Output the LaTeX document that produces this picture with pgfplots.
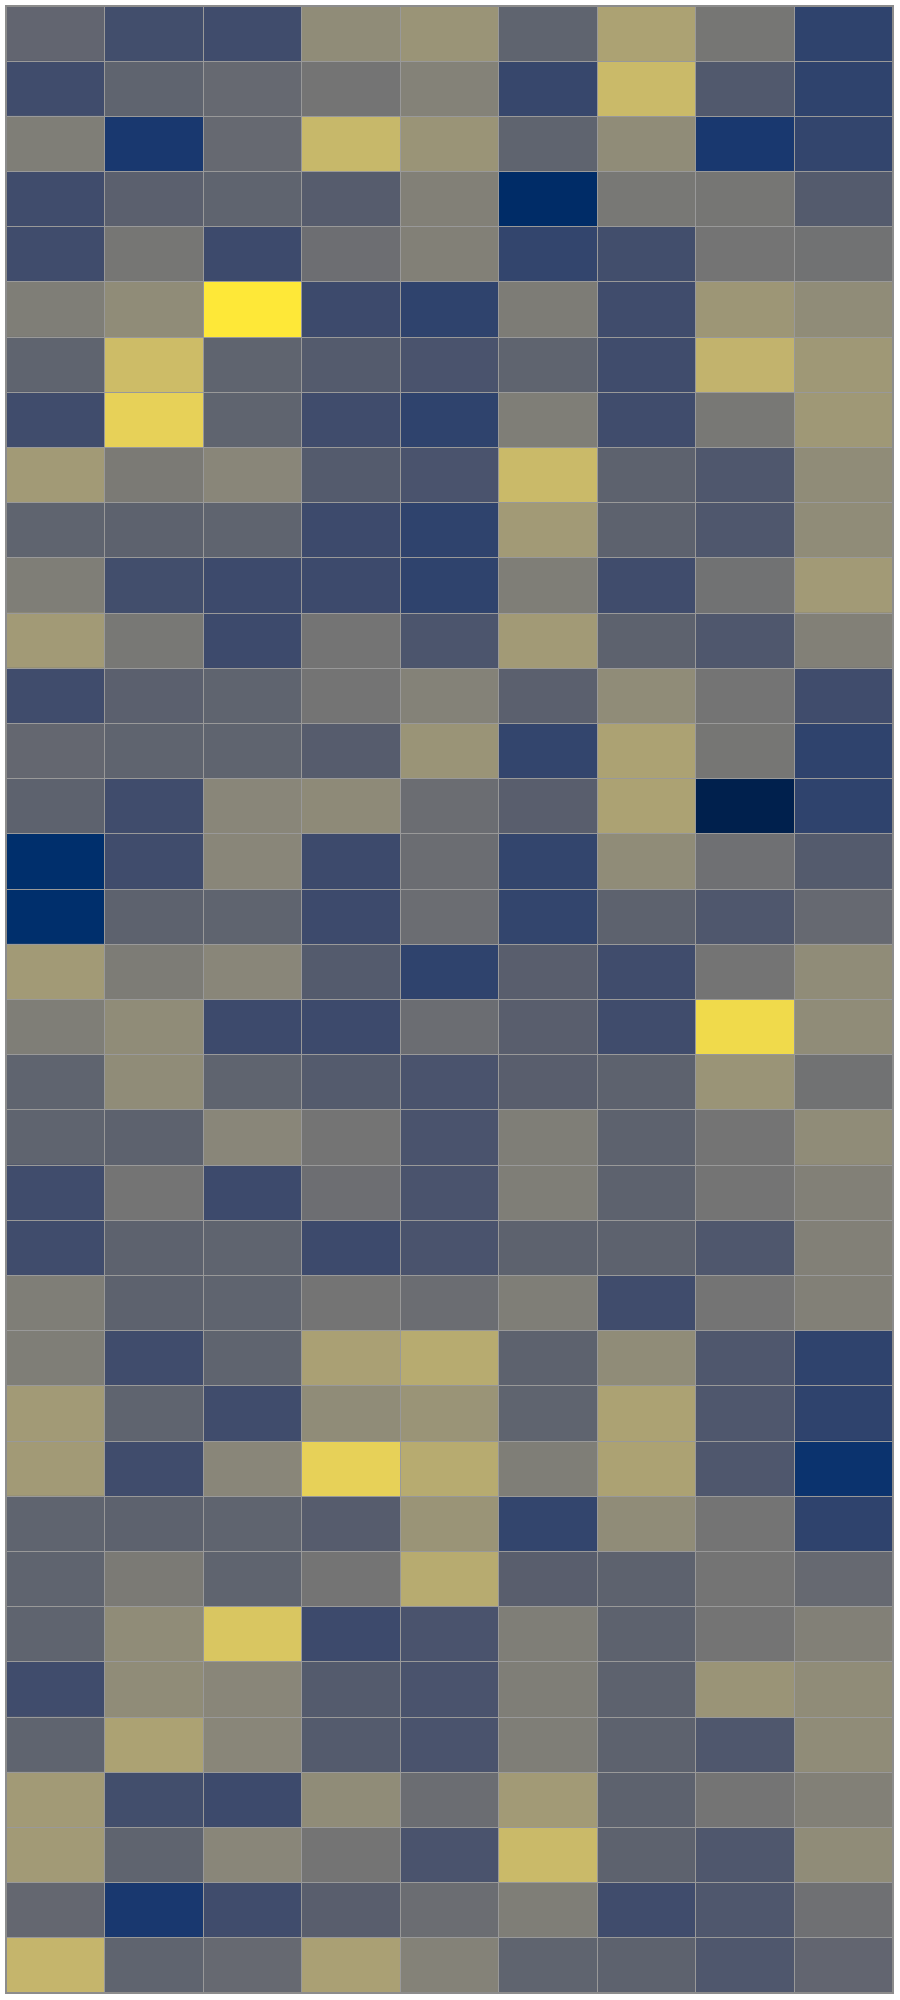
\documentclass[border=0pt]{standalone}
\usepackage{pgfplots}
\pgfplotsset{compat=1.18}
\usepackage{pgfplotstable}
\pgfplotsset{colormap={civ}{[1pt]
 rgb255(0pt)=(0,32,77)
 rgb255(60pt)=(0,47,108)
 rgb255(111pt)=(18,53,112)
 rgb255(222pt)=(59,73,108)
 rgb255(333pt)=(87,93,109)
 rgb255(444pt)=(112,113,115)
 rgb255(556pt)=(138,135,121)
 rgb255(667pt)=(166,157,117)
 rgb255(778pt)=(196,181,108)
 rgb255(889pt)=(228,207,91)
 rgb255(1000pt)=(254,232,56)}}
\pgfplotstableread{
x y v
0 0 0.38
1 0 0.25
2 0 0.24
3 0 0.58
4 0 0.62
5 0 0.37
6 0 0.69
7 0 0.47
8 0 0.19
0 1 0.24
1 1 0.37
2 1 0.40
3 1 0.46
4 1 0.53
5 1 0.21
6 1 0.80
7 1 0.31
8 1 0.19
0 2 0.51
1 2 0.13
2 2 0.40
3 2 0.79
4 2 0.62
5 2 0.37
6 2 0.58
7 2 0.13
8 2 0.20
0 3 0.24
1 3 0.35
2 3 0.37
3 3 0.33
4 3 0.52
5 3 0.05
6 3 0.48
7 3 0.47
8 3 0.32
0 4 0.24
1 4 0.47
2 4 0.23
3 4 0.43
4 4 0.52
5 4 0.20
6 4 0.25
7 4 0.46
8 4 0.45
0 5 0.51
1 5 0.58
2 5 1.00
3 5 0.23
4 5 0.19
5 5 0.50
6 5 0.24
7 5 0.63
8 5 0.58
0 6 0.37
1 6 0.81
2 6 0.37
3 6 0.32
4 6 0.28
5 6 0.37
6 6 0.24
7 6 0.77
8 6 0.64
0 7 0.24
1 7 0.90
2 7 0.37
3 7 0.24
4 7 0.19
5 7 0.51
6 7 0.24
7 7 0.48
8 7 0.64
0 8 0.65
1 8 0.49
2 8 0.55
3 8 0.32
4 8 0.28
5 8 0.80
6 8 0.36
7 8 0.30
8 8 0.58
0 9 0.37
1 9 0.36
2 9 0.37
3 9 0.23
4 9 0.19
5 9 0.65
6 9 0.36
7 9 0.30
8 9 0.58
0 10 0.51
1 10 0.25
2 10 0.23
3 10 0.23
4 10 0.19
5 10 0.51
6 10 0.24
7 10 0.45
8 10 0.65
0 11 0.65
1 11 0.48
2 11 0.23
3 11 0.46
4 11 0.29
5 11 0.65
6 11 0.36
7 11 0.30
8 11 0.52
0 12 0.24
1 12 0.35
2 12 0.37
3 12 0.46
4 12 0.53
5 12 0.35
6 12 0.58
7 12 0.46
8 12 0.24
0 13 0.39
1 13 0.37
2 13 0.37
3 13 0.33
4 13 0.62
5 13 0.20
6 13 0.69
7 13 0.47
8 13 0.19
0 14 0.36
1 14 0.24
2 14 0.55
3 14 0.57
4 14 0.42
5 14 0.34
6 14 0.69
7 14 0.00
8 14 0.19
0 15 0.06
1 15 0.24
2 15 0.55
3 15 0.23
4 15 0.42
5 15 0.20
6 15 0.58
7 15 0.44
8 15 0.32
0 16 0.06
1 16 0.36
2 16 0.37
3 16 0.23
4 16 0.42
5 16 0.20
6 16 0.36
7 16 0.30
8 16 0.40
0 17 0.65
1 17 0.50
2 17 0.55
3 17 0.32
4 17 0.19
5 17 0.34
6 17 0.24
7 17 0.46
8 17 0.58
0 18 0.51
1 18 0.58
2 18 0.23
3 18 0.23
4 18 0.42
5 18 0.34
6 18 0.24
7 18 0.94
8 18 0.58
0 19 0.37
1 19 0.58
2 19 0.37
3 19 0.32
4 19 0.28
5 19 0.34
6 19 0.36
7 19 0.62
8 19 0.45
0 20 0.37
1 20 0.36
2 20 0.55
3 20 0.46
4 20 0.28
5 20 0.51
6 20 0.36
7 20 0.46
8 20 0.58
0 21 0.24
1 21 0.46
2 21 0.23
3 21 0.43
4 21 0.28
5 21 0.51
6 21 0.36
7 21 0.46
8 21 0.52
0 22 0.24
1 22 0.36
2 22 0.37
3 22 0.23
4 22 0.28
5 22 0.36
6 22 0.36
7 22 0.30
8 22 0.52
0 23 0.51
1 23 0.36
2 23 0.37
3 23 0.46
4 23 0.42
5 23 0.51
6 23 0.24
7 23 0.46
8 23 0.52
0 24 0.51
1 24 0.24
2 24 0.37
3 24 0.68
4 24 0.73
5 24 0.36
6 24 0.58
7 24 0.30
8 24 0.19
0 25 0.65
1 25 0.37
2 25 0.24
3 25 0.58
4 25 0.62
5 25 0.37
6 25 0.69
7 25 0.30
8 25 0.19
0 26 0.65
1 26 0.24
2 26 0.55
3 26 0.90
4 26 0.73
5 26 0.51
6 26 0.69
7 26 0.30
8 26 0.09
0 27 0.37
1 27 0.36
2 27 0.37
3 27 0.33
4 27 0.62
5 27 0.20
6 27 0.58
7 27 0.46
8 27 0.19
0 28 0.37
1 28 0.49
2 28 0.37
3 28 0.46
4 28 0.73
5 28 0.34
6 28 0.36
7 28 0.46
8 28 0.40
0 29 0.37
1 29 0.58
2 29 0.85
3 29 0.23
4 29 0.28
5 29 0.51
6 29 0.36
7 29 0.46
8 29 0.52
0 30 0.24
1 30 0.58
2 30 0.55
3 30 0.32
4 30 0.28
5 30 0.51
6 30 0.36
7 30 0.62
8 30 0.58
0 31 0.37
1 31 0.69
2 31 0.55
3 31 0.32
4 31 0.28
5 31 0.51
6 31 0.36
7 31 0.30
8 31 0.58
0 32 0.65
1 32 0.25
2 32 0.23
3 32 0.58
4 32 0.42
5 32 0.65
6 32 0.36
7 32 0.46
8 32 0.52
0 33 0.65
1 33 0.37
2 33 0.55
3 33 0.46
4 33 0.28
5 33 0.80
6 33 0.36
7 33 0.30
8 33 0.58
0 34 0.39
1 34 0.13
2 34 0.24
3 34 0.34
4 34 0.42
5 34 0.51
6 34 0.24
7 34 0.30
8 34 0.44
0 35 0.78
1 35 0.37
2 35 0.40
3 35 0.68
4 35 0.53
5 35 0.37
6 35 0.36
7 35 0.30
8 35 0.38
}\heat
\begin{document}
\begin{tikzpicture}
\begin{axis}[name=ax, scale only axis, width=443.5pt, height=993.5pt,
  xmin=-0.5, xmax=8.5, ymin=-0.5, ymax=35.5, y dir=reverse,
  enlargelimits=false, colormap name=civ, point meta min=0, point meta max=1,
  xtick={0.5,1.5,...,7.5}, ytick={0.5,1.5,...,34.5},
  xticklabels={}, yticklabels={}, major tick length=0pt,
  grid=major, grid style={draw=black!40, line width=0.5pt},
  axis on top, axis line style={draw=black!45, line width=0.9pt}]
\addplot[matrix plot*, mesh/cols=9, point meta=explicit]
  table[x=x, y=y, meta=v] {\heat};
\end{axis}
\pgfresetboundingbox
\path ([shift={(-3pt,-3.5pt)}]ax.south west) rectangle ([shift={(3.5pt,3pt)}]ax.north east);
\end{tikzpicture}
\end{document}
